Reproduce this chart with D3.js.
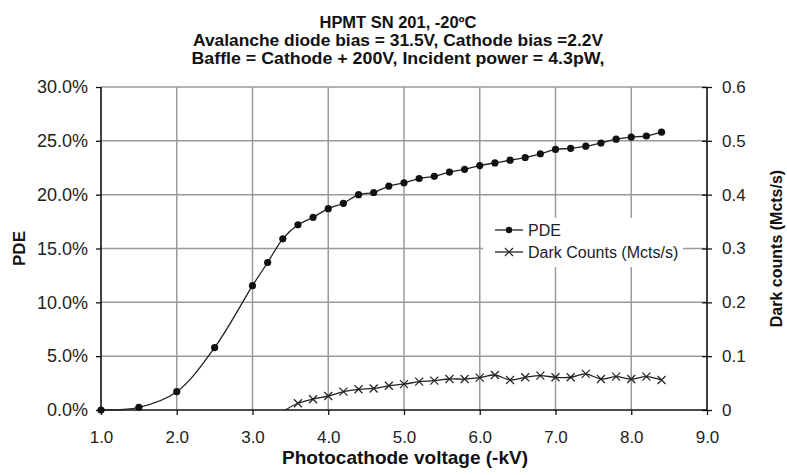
<!DOCTYPE html>
<html>
<head>
<meta charset="utf-8">
<script src="https://cdn.jsdelivr.net/npm/d3@7"></script>
<style>
  body { margin: 0; background: #fff; }
  svg { display: block; font-family: "Liberation Sans", Arial, sans-serif; }
</style>
</head>
<body>
<div id="chart"></div>
<script>
// Data
const titleLines = [
  'HPMT SN 201, -20\u00BAC',
  'Avalanche diode bias = 31.5V, Cathode bias =2.2V',
  'Baffle = Cathode + 200V,  Incident power = 4.3pW,'
];
const titleWidths = [157, 410, 413];

const pdeVoltage = [1.0, 1.5, 2.0, 2.5, 3.0, 3.2, 3.4, 3.6, 3.8, 4.0, 4.2, 4.4, 4.6, 4.8, 5.0,
  5.2, 5.4, 5.6, 5.8, 6.0, 6.2, 6.4, 6.6, 6.8, 7.0, 7.2, 7.4, 7.6, 7.8, 8.0, 8.2, 8.4];
const pdePercent = [0, 0.25, 1.7, 5.8, 11.55, 13.7, 15.9, 17.2, 17.9, 18.7, 19.2, 20.0, 20.2, 20.8, 21.1,
  21.5, 21.7, 22.1, 22.35, 22.7, 22.95, 23.2, 23.45, 23.8, 24.2, 24.3, 24.5, 24.8, 25.15, 25.35, 25.45, 25.8];

const darkVoltage = [3.4, 3.6, 3.8, 4.0, 4.2, 4.4, 4.6, 4.8, 5.0, 5.2, 5.4, 5.6, 5.8, 6.0,
  6.2, 6.4, 6.6, 6.8, 7.0, 7.2, 7.4, 7.6, 7.8, 8.0, 8.2, 8.4];
const darkCounts = [-0.003, 0.0125, 0.020, 0.026, 0.034, 0.0385, 0.040, 0.045, 0.048, 0.0526, 0.0545, 0.0576, 0.0576, 0.060,
  0.065, 0.0558, 0.0608, 0.0638, 0.0608, 0.0608, 0.067, 0.0576, 0.062, 0.0576, 0.062, 0.0558];

const xTicks = [1, 2, 3, 4, 5, 6, 7, 8, 9];
const leftTicks = [0, 5, 10, 15, 20, 25, 30];
const rightTicks = [0, 0.1, 0.2, 0.3, 0.4, 0.5, 0.6];
const legendLabels = ['PDE', 'Dark Counts (Mcts/s)'];

// Dimensions
const width = 787, height = 475;
const margin = { top: 87, right: 80, bottom: 65, left: 101 };
const innerW = width - margin.left - margin.right;
const innerH = height - margin.top - margin.bottom;

const svg = d3.select('#chart').append('svg')
  .attr('width', width).attr('height', height);

const g = svg.append('g').attr('transform', `translate(${margin.left},${margin.top})`);

const x = d3.scaleLinear().domain([1, 9]).range([0, innerW]);
const yL = d3.scaleLinear().domain([0, 30]).range([innerH, 0]);
const yR = d3.scaleLinear().domain([0, 0.6]).range([innerH, 0]);

// Gridlines
g.append('g').selectAll('line').data(leftTicks.slice(1)).join('line')
  .attr('x1', 0).attr('x2', innerW)
  .attr('y1', d => yL(d)).attr('y2', d => yL(d))
  .attr('stroke', '#9a9a9a').attr('stroke-width', 1.5);
g.append('g').selectAll('line').data(xTicks.slice(1, -1)).join('line')
  .attr('x1', d => x(d)).attr('x2', d => x(d))
  .attr('y1', 0).attr('y2', innerH)
  .attr('stroke', '#9a9a9a').attr('stroke-width', 1.5);

// Legend background (covers grid)
const legX = 382, legY = 131;
g.append('rect').attr('x', legX).attr('y', legY).attr('width', 200).attr('height', 49).attr('fill', '#fff');

// Axes
const xAxis = g.append('g').attr('transform', `translate(0,${innerH})`)
  .call(d3.axisBottom(x).tickValues(xTicks).tickFormat(d3.format('.1f')).tickSize(5).tickPadding(16));
const lAxis = g.append('g')
  .call(d3.axisLeft(yL).tickValues(leftTicks).tickFormat(d => d.toFixed(1) + '%').tickSize(5).tickPadding(8));
const rAxis = g.append('g').attr('transform', `translate(${innerW},0)`)
  .call(d3.axisRight(yR).tickValues(rightTicks).tickFormat(d => d === 0 ? '0' : d.toFixed(1)).tickSize(5).tickPadding(10));
rAxis.selectAll('.tick line').attr('x1', -5);

[xAxis, lAxis, rAxis].forEach(a => {
  a.select('.domain').attr('stroke', '#111').attr('stroke-width', 1.6);
  a.selectAll('.tick line').attr('stroke', '#111').attr('stroke-width', 1.3);
  a.selectAll('text').attr('font-size', 17).attr('fill', '#222').style('font-family', '"Liberation Sans", Arial, sans-serif');
});
lAxis.selectAll('text').attr('font-size', 18);
xAxis.select('.domain').attr('d', `M0,0H${innerW}`);
lAxis.select('.domain').attr('d', `M0,${innerH}V0`);
rAxis.select('.domain').attr('d', `M0,${innerH}V0`);

// Clip to plot area
svg.append('clipPath').attr('id', 'plot').append('rect')
  .attr('x', 0).attr('y', -10).attr('width', innerW).attr('height', innerH + 10);

const pdeData = pdeVoltage.map((v, i) => ({ v, p: pdePercent[i] }));
const darkData = darkVoltage.map((v, i) => ({ v, c: darkCounts[i] }));

const plot = g.append('g');

// Dark counts line (clipped at zero)
plot.append('path').datum(darkData)
  .attr('clip-path', 'url(#plot)')
  .attr('fill', 'none').attr('stroke', '#222').attr('stroke-width', 1.3)
  .attr('d', d3.line().x(d => x(d.v)).y(d => yR(d.c)).curve(d3.curveCatmullRom.alpha(0.5)));

const cross = 4;
plot.append('g').selectAll('path').data(darkData.filter(d => d.c >= 0)).join('path')
  .attr('transform', d => `translate(${x(d.v)},${yR(d.c)})`)
  .attr('d', `M${-cross},${-cross}L${cross},${cross}M${-cross},${cross}L${cross},${-cross}`)
  .attr('stroke', '#222').attr('stroke-width', 1.2);

// PDE line
plot.append('path').datum(pdeData)
  .attr('fill', 'none').attr('stroke', '#222').attr('stroke-width', 1.3)
  .attr('d', d3.line().x(d => x(d.v)).y(d => yL(d.p)).curve(d3.curveCatmullRom.alpha(0.5)));
plot.append('g').selectAll('circle').data(pdeData).join('circle')
  .attr('cx', d => x(d.v)).attr('cy', d => yL(d.p)).attr('r', 3.6).attr('fill', '#111');

// Legend
const leg = g.append('g').attr('transform', `translate(${legX},${legY})`);
legendLabels.forEach((lab, i) => {
  const ly = 12 + i * 22;
  const row = leg.append('g').attr('transform', `translate(0,${ly})`);
  row.append('line').attr('x1', 12).attr('x2', 40).attr('y1', 0).attr('y2', 0)
    .attr('stroke', '#222').attr('stroke-width', 1.3);
  if (i === 0) {
    row.append('circle').attr('cx', 26).attr('cy', 0).attr('r', 3.2).attr('fill', '#111');
  } else {
    row.append('path').attr('transform', 'translate(26,0)')
      .attr('d', `M${-cross},${-cross}L${cross},${cross}M${-cross},${cross}L${cross},${-cross}`)
      .attr('stroke', '#222').attr('stroke-width', 1.2);
  }
  row.append('text').attr('x', 45).attr('y', 5.5).attr('font-size', 16).attr('fill', '#222').text(lab);
});

// Titles
svg.append('g').selectAll('text').data(titleLines).join('text')
  .attr('x', 398).attr('y', (d, i) => 28 + i * 18)
  .attr('text-anchor', 'middle').attr('font-size', 16).attr('font-weight', 'bold').attr('fill', '#111')
  .attr('textLength', (d, i) => titleWidths[i]).attr('lengthAdjust', 'spacingAndGlyphs')
  .text(d => d);

svg.append('text')
  .attr('x', 405).attr('y', 464)
  .attr('text-anchor', 'middle').attr('font-size', 19).attr('font-weight', 'bold').attr('fill', '#111')
  .text('Photocathode voltage (-kV)');

svg.append('text')
  .attr('transform', `translate(25,${margin.top + innerH / 2}) rotate(-90)`)
  .attr('text-anchor', 'middle').attr('font-size', 17).attr('font-weight', 'bold').attr('fill', '#111')
  .text('PDE');

svg.append('text')
  .attr('transform', `translate(782,${margin.top + innerH / 2}) rotate(-90)`)
  .attr('text-anchor', 'middle').attr('font-size', 16).attr('font-weight', 'bold').attr('fill', '#111')
  .text('Dark counts (Mcts/s)');
</script>
</body>
</html>
